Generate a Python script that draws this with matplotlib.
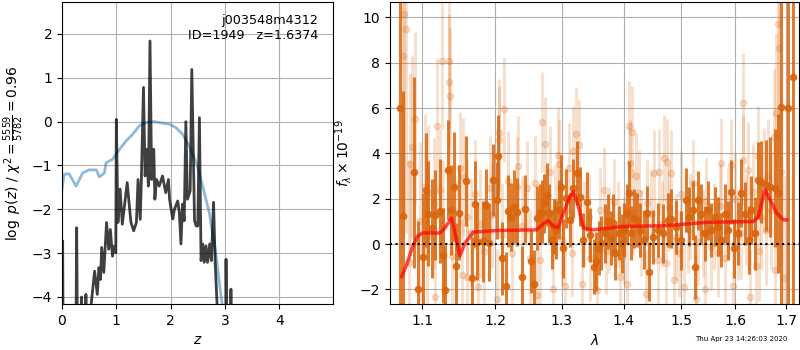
import matplotlib
matplotlib.use('Agg')
import matplotlib.pyplot as plt
from matplotlib.ticker import FixedLocator, NullLocator, FormatStrFormatter

# p(z) panel
z_pz = [0.00, 0.012, 0.025, 0.25, 0.27, 0.29, 0.34, 0.36, 0.38, 0.42, 0.44, 0.46, 0.52,
        0.54, 0.60, 0.65, 0.68, 0.71, 0.73, 0.77, 0.82, 0.86, 0.89, 0.93, 0.96,
        0.99, 1.00, 1.03, 1.07, 1.11, 1.15, 1.20, 1.24, 1.27, 1.32, 1.37, 1.40,
        1.44, 1.46, 1.50, 1.53, 1.56, 1.59, 1.62, 1.65, 1.69, 1.71, 1.74, 1.79,
        1.85, 1.91, 1.96, 1.98, 2.01, 2.04, 2.07, 2.13, 2.16, 2.19, 2.22, 2.25,
        2.28, 2.31, 2.36, 2.39, 2.44, 2.47, 2.50, 2.53, 2.56, 2.59, 2.62, 2.65,
        2.68, 2.72, 2.75, 2.79, 2.82, 2.87, 2.95, 3.01, 3.02, 3.04, 3.09, 3.11,
        3.13, 4.98]
logpz = [-6.0, -2.72, -6.0, -6.0, -2.42, -6.0, -6.0, -4.00, -6.0, -6.0, -3.94, -6.0, -6.0,
         -4.13, -3.41, -3.94, -3.33, -3.60, -2.87, -3.44, -2.30, -2.91, -2.46, -3.07, -2.84,
         -2.99, 0.05, -2.30, -1.54, -2.34, -1.92, -1.39, -1.92, -2.30, -2.49, -2.30, -1.32,
         -2.23, -1.39, 0.78, -1.24, -0.63, -1.47, 1.84, -1.32, -0.63, -1.77, -1.32, -1.47,
         -1.24, -1.62, -1.32, -1.77, -2.00, -2.22, -2.00, -1.81, -2.07, -2.79, -1.88, -2.26,
         0.00, -1.77, -1.58, 1.19, -2.26, -2.38, -2.38, 0.09, -3.17, -2.79, -3.21, -2.83,
         -3.21, -2.79, -3.17, -1.84, -3.21, -4.60, -6.0, -6.0, -3.14, -6.0, -6.0, -3.82,
         -6.0, -6.0]

z_chi = [0.00, 0.04, 0.13, 0.26, 0.38, 0.50, 0.63, 0.69, 0.78, 0.81, 0.93, 1.06,
         1.18, 1.30, 1.42, 1.55, 1.70, 1.79, 1.98, 2.10, 2.22, 2.34, 2.47, 2.59,
         2.71, 2.83, 2.93, 3.00]
chi_scaled = [-1.54, -1.20, -1.19, -1.47, -1.17, -1.10, -1.10, -1.26, -1.17, -0.94, -0.86, -0.63,
              -0.44, -0.29, -0.10, -0.02, 0.00, -0.02, -0.06, -0.14, -0.29, -0.55, -0.93, -1.47,
              -2.07, -2.98, -4.00, -4.60]

# spectrum panel: model
lam_model = [1.0731, 1.0796, 1.0860, 1.0934, 1.1000, 1.1235, 1.1302, 1.1393, 1.1439,
             1.1507, 1.1576, 1.1692, 1.2011, 1.2613, 1.2714, 1.2791, 1.2868, 1.2945,
             1.3023, 1.3127, 1.3180, 1.3259, 1.3338, 1.3499, 1.3993, 1.4679, 1.5460,
             1.6349, 1.6447, 1.6579, 1.6678, 1.6812, 1.6946, 1.7014]
flux_model = [-1.43, -0.91, -0.25, 0.34, 0.49, 0.49, 0.71, 1.15, 0.49,
              -0.51, 0.04, 0.53, 0.60, 0.63, 0.90, 1.04, 0.78, 0.74,
              1.37, 2.10, 2.32, 1.66, 0.71, 0.63, 0.78, 0.81, 0.96,
              1.00, 1.22, 2.40, 1.96, 1.37, 1.07, 1.07]

# spectrum panel: binned data (dark)
lam_bin = [1.0710, 1.0753, 1.0895, 1.0943, 1.1014, 1.1045, 1.1082, 1.1127, 1.1173, 1.1232,
           1.1277, 1.1309, 1.1341, 1.1386, 1.1423, 1.1459, 1.1491, 1.1595, 1.1673, 1.1718,
           1.1750, 1.1823, 1.1868, 1.1914, 1.1977, 1.2025, 1.2040, 1.2105, 1.2155, 1.2190,
           1.2225, 1.2275, 1.2315, 1.2390, 1.2440, 1.2530, 1.2575, 1.2615, 1.2665, 1.2700,
           1.2730, 1.2765, 1.2800, 1.2840, 1.2880, 1.2915, 1.2950, 1.2990, 1.3025, 1.3068,
           1.3120, 1.3175, 1.3230, 1.3285, 1.3340, 1.3395, 1.3450, 1.3505, 1.3545, 1.3585,
           1.3630, 1.3685, 1.3740, 1.3780, 1.3815, 1.3860, 1.3915, 1.3970, 1.4000, 1.4047,
           1.4087, 1.4128, 1.4175, 1.4221, 1.4279, 1.4337, 1.4395, 1.4436, 1.4494, 1.4581,
           1.4669, 1.4756, 1.4814, 1.4901, 1.4988, 1.5081, 1.5143, 1.5205, 1.5255, 1.5298,
           1.5360, 1.5422, 1.5484, 1.5547, 1.5609, 1.5671, 1.5733, 1.5795, 1.5857, 1.5919,
           1.5981, 1.6046, 1.6112, 1.6178, 1.6257, 1.6309, 1.6375, 1.6441, 1.6507, 1.6605,
           1.6671, 1.6770, 1.6836, 1.6901, 1.7033, 1.7151]
flux_bin = [6.00, 1.24, 3.16, -2.00, -0.56, 2.38, 1.35, 0.69, 1.28, 1.47,
            -0.49, -2.03, 3.26, 1.50, 2.53, -0.96, 1.38, 2.78, -1.49, 1.76,
            0.10, 0.12, 1.72, 0.07, 2.82, 1.94, 3.90, -0.63, -1.85, 1.47,
            1.21, 1.65, 1.41, -1.47, 1.57, -0.76, -1.74, 1.15, 1.37, 1.43,
            1.81, 2.18, 1.37, 0.19, 0.78, 0.63, 1.51, 2.54, -0.18, 2.03,
            1.07, 2.47, 3.13, 2.10, 0.19, 1.88, 0.41, -0.99, -0.76, -0.18,
            0.04, 0.49, 1.00, 0.26, 0.93, -0.40, 0.49, 0.04, 0.63, 1.37,
            2.25, 0.49, 1.15, 1.07, 0.63, 0.19, 1.37, -1.21, 0.32, 0.62,
            0.47, 1.06, 1.13, 0.76, 0.18, 1.94, 1.21, 1.50, -1.00, 1.94,
            1.35, 0.47, 1.50, 0.62, 1.21, 0.76, 0.18, 1.35, 0.62, 2.31,
            -0.19, 0.47, 2.26, 1.35, 0.18, 1.50, 0.47, 2.82, 2.75, 2.60,
            2.53, 2.46, 2.24, 6.06, 5.99, 7.38]
err_bin = [9.0, 5.5, 4.2, 3.0, 2.8, 2.5, 2.3, 2.2, 2.0, 2.3,
           2.1, 2.0, 2.2, 2.0, 2.4, 1.9, 2.1, 2.0, 1.8, 1.9,
           1.7, 1.8, 1.6, 1.7, 1.6, 1.7, 1.8, 1.6, 1.5, 1.6,
           1.5, 1.6, 1.5, 1.4, 1.5, 1.4, 1.5, 1.4, 1.3, 1.4,
           1.3, 1.4, 1.3, 1.3, 1.2, 1.3, 1.3, 1.4, 1.3, 1.3,
           1.2, 1.3, 1.4, 1.3, 1.2, 1.3, 1.2, 1.2, 1.3, 1.2,
           1.2, 1.3, 1.2, 1.2, 1.3, 1.2, 1.2, 1.3, 1.2, 1.3,
           1.4, 1.2, 1.3, 1.2, 1.2, 1.3, 1.2, 1.3, 1.2, 1.2,
           1.3, 1.2, 1.3, 1.2, 1.3, 1.4, 1.3, 1.3, 1.4, 1.3,
           1.3, 1.2, 1.3, 1.2, 1.3, 1.3, 1.2, 1.3, 1.3, 1.4,
           1.3, 1.4, 1.5, 1.4, 1.5, 1.5, 1.6, 1.7, 1.8, 2.0,
           2.2, 2.6, 3.5, 9.0, 9.0, 10.0]

# spectrum panel: unbinned data (light)
lam_raw = [1.0744, 1.0761, 1.0787, 1.0820, 1.0839, 1.0860, 1.0904, 1.0970, 1.1036, 1.1060,
           1.1082, 1.1150, 1.1173, 1.1195, 1.1241, 1.1264, 1.1280, 1.1355, 1.1359, 1.1377,
           1.1400, 1.1450, 1.1514, 1.1536, 1.1550, 1.1605, 1.1610, 1.1660, 1.1718, 1.1764,
           1.1780, 1.1850, 1.1923, 1.1960, 1.2025, 1.2055, 1.2065, 1.2100, 1.2125, 1.2190,
           1.2250, 1.2315, 1.2340, 1.2400, 1.2465, 1.2520, 1.2590, 1.2615, 1.2665, 1.2690,
           1.2740, 1.2815, 1.2865, 1.2900, 1.2940, 1.2955, 1.3000, 1.3044, 1.3115, 1.3153,
           1.3180, 1.3224, 1.3262, 1.3317, 1.3350, 1.3426, 1.3450, 1.3563, 1.3600, 1.3672,
           1.3700, 1.3754, 1.3836, 1.3900, 1.3945, 1.4000, 1.4058, 1.4087, 1.4105, 1.4134,
           1.4150, 1.4203, 1.4262, 1.4300, 1.4378, 1.4400, 1.4465, 1.4523, 1.4581, 1.4610,
           1.4650, 1.4698, 1.4727, 1.4744, 1.4780, 1.4814, 1.4872, 1.4900, 1.4959, 1.5000,
           1.5050, 1.5112, 1.5150, 1.5205, 1.5267, 1.5300, 1.5391, 1.5422, 1.5450, 1.5547,
           1.5600, 1.5671, 1.5700, 1.5733, 1.5800, 1.5857, 1.5919, 1.5950, 1.6000, 1.6050,
           1.6112, 1.6145, 1.6151, 1.6200, 1.6243, 1.6276, 1.6350, 1.6408, 1.6441, 1.6450,
           1.6507, 1.6550, 1.6605, 1.6638, 1.6700, 1.6757, 1.6770, 1.6803, 1.6836, 1.6868,
           1.6900, 1.6950]
flux_raw = [8.30, 10.15, 9.50, -0.80, 3.53, 4.30, 5.54, 1.00, 2.53, 0.30,
            2.24, 1.80, -2.32, 5.20, 2.38, 8.07, 0.90, 8.07, 7.16, 6.53,
            -0.53, 0.20, 3.34, -1.37, 2.97, -1.44, 1.20, 0.50, 2.20, -1.88,
            0.90, -0.30, 2.46, 1.30, -2.40, 4.59, 4.88, 0.40, 5.94, 2.79,
            -0.40, 2.53, 3.46, 0.80, 2.46, -0.60, 2.71, -2.25, -0.71, 5.40,
            4.41, 3.19, -2.00, 1.50, 3.93, 3.53, 0.20, -1.85, 3.34, -0.41,
            4.09, 4.85, 4.37, -1.76, 0.90, 1.21, -0.60, -2.03, 1.50, 2.38,
            -0.30, 0.62, 1.87, 0.90, -1.47, 0.20, -1.76, 5.21, 3.56, 4.96,
            1.40, 3.00, 2.24, 0.50, -2.18, 1.80, 1.35, 3.12, -0.71, 3.19,
            0.90, 3.78, -0.85, 3.63, 1.60, 3.12, -1.59, 0.30, -0.41, 2.20,
            -1.88, 0.62, 1.20, 2.68, -2.40, 0.10, 0.47, -2.00, 1.90, -0.12,
            0.80, -0.41, 1.70, 3.56, -0.60, 1.35, 3.51, -1.85, 2.00, 0.40,
            0.47, 6.24, 3.71, 1.10, 3.29, -2.32, 2.30, -0.97, 3.88, -0.30,
            1.21, 2.80, 0.62, 3.04, 1.50, 4.73, -1.12, 5.79, 9.69, 8.63,
            3.20, -1.50]
err_raw = [8.0, 9.0, 9.0, 4.5, 4.0, 4.0, 3.8, 3.5, 3.2, 3.0,
           3.0, 2.9, 2.8, 3.0, 2.7, 3.0, 2.8, 3.0, 3.0, 3.0,
           2.6, 2.6, 2.5, 2.5, 2.6, 2.4, 2.5, 2.4, 2.4, 2.3,
           2.4, 2.3, 2.3, 2.3, 2.2, 2.4, 2.4, 2.3, 2.3, 2.2,
           2.2, 2.2, 2.2, 2.2, 2.1, 2.1, 2.1, 2.1, 2.0, 2.2,
           2.1, 2.0, 2.0, 2.0, 2.1, 2.0, 2.0, 2.0, 2.0, 1.9,
           2.0, 2.1, 2.0, 1.9, 1.9, 1.9, 1.9, 1.9, 1.9, 1.9,
           1.9, 1.9, 1.9, 1.9, 1.9, 1.9, 1.9, 2.0, 1.9, 2.0,
           1.9, 1.9, 1.9, 1.9, 1.9, 1.9, 1.9, 1.9, 1.9, 1.9,
           1.9, 1.9, 1.9, 1.9, 1.9, 1.9, 1.9, 1.9, 1.9, 1.9,
           1.9, 1.9, 1.9, 1.9, 1.9, 1.9, 1.9, 1.9, 1.9, 1.9,
           1.9, 1.9, 1.9, 2.0, 2.0, 2.0, 2.0, 2.0, 2.0, 2.0,
           2.0, 2.2, 2.0, 2.0, 2.1, 2.1, 2.1, 2.1, 2.2, 2.2,
           2.3, 2.3, 2.4, 2.5, 2.6, 3.0, 3.0, 3.5, 5.0, 5.0,
           4.0, 4.5]

fig = plt.figure(figsize=(8, 3.5), dpi=100)
ax1 = fig.add_axes([0.0775, 0.1314, 0.3388, 0.8643])
ax2 = fig.add_axes([0.4875, 0.1314, 0.51125, 0.8643])

# left: p(z)
ax1.plot(z_chi, chi_scaled, color='#1f77b4', alpha=0.5, lw=2)
ax1.plot(z_pz, logpz, color='k', alpha=0.75, lw=2)
ax1.set_xlim(0, 4.99)
ax1.set_ylim(-4.16, 2.74)
ax1.set_xticks([0, 1, 2, 3, 4])
ax1.set_yticks([-4, -3, -2, -1, 0, 1, 2])
ax1.grid(True)
ax1.set_xlabel(r'$z$')
ax1.set_ylabel(r'$\log\ p(z)$' + ' / ' + r'$\chi^2=\frac{5559}{5782}=0.96$')
ax1.text(0.945, 0.96, 'j003548m4312\nID=1949   z=1.6374', transform=ax1.transAxes,
         ha='right', va='top', fontsize=9.2)

# right: spectrum
orange = '#d9650c'
ax2.errorbar(lam_raw, flux_raw, yerr=err_raw, marker='o', ms=4.5, linestyle='None',
             color=orange, alpha=0.2, elinewidth=2.2, zorder=1)
ax2.errorbar(lam_bin, flux_bin, yerr=err_bin, marker='o', ms=4.5, linestyle='None',
             color=orange, alpha=0.85, elinewidth=2.2, zorder=2)
ax2.plot(lam_model, flux_model, color='r', lw=2.5, alpha=0.7, zorder=3)
ax2.axhline(0, color='k', linestyle=':', lw=1.5, zorder=4)
ax2.set_xscale('log')
ax2.xaxis.set_major_locator(FixedLocator([1.1, 1.2, 1.3, 1.4, 1.5, 1.6, 1.7]))
ax2.xaxis.set_major_formatter(FormatStrFormatter('%.1f'))
ax2.xaxis.set_minor_locator(NullLocator())
ax2.set_xlim(1.0583, 1.7267)
ax2.set_ylim(-2.64, 10.70)
ax2.set_yticks([-2, 0, 2, 4, 6, 8, 10])
ax2.grid(True)
ax2.set_axisbelow(True)
ax2.set_xlabel(r'$\lambda$')
ax2.set_ylabel(r'$f_\lambda\times10^{-19}$')

fig.text(0.984, 0.022, 'Thu Apr 23 14:26:03 2020', ha='right', va='bottom', fontsize=5)

fig.savefig('out.png', dpi=100)
